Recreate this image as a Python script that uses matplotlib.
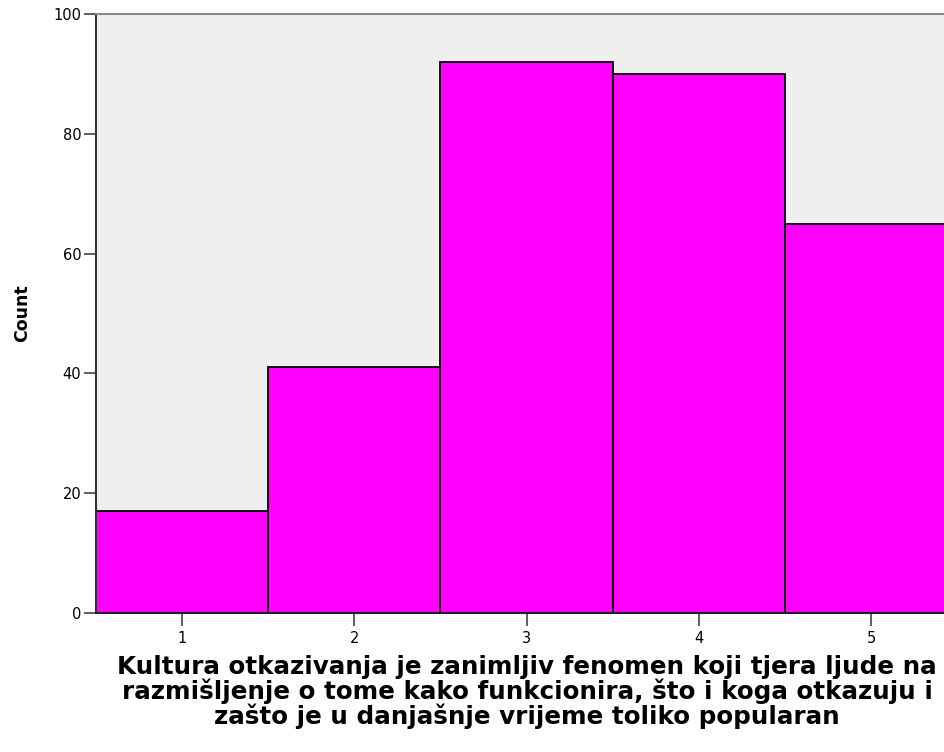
import numpy as np
import matplotlib.pyplot as plt

plt.rcParams['font.family'] = ['DejaVu Sans']

# histogram counts per answer category
categories = [1, 2, 3, 4, 5]
counts = [17, 41, 92, 90, 65]
y_ticks = [0, 20, 40, 60, 80, 100]

xlabel = ('Kultura otkazivanja je zanimljiv fenomen koji tjera ljude na\n'
          'razmišljenje o tome kako funkcionira, što i koga otkazuju i\n'
          'zašto je u danjašnje vrijeme toliko popularan')

fig = plt.figure(figsize=(9.45, 7.52), dpi=100)
ax = fig.add_axes([96/945, 1 - 613/752, 1 - 96/945, (613 - 14)/752])
ax.set_facecolor('#efefef')

ax.bar(categories, counts, width=1.0, color='#ff00ff', edgecolor='black', linewidth=1.3, zorder=2)

ax.set_xlim(0.5, 5.43)
ax.set_ylim(0, 100)
ax.set_xticks(categories)
ax.set_yticks(y_ticks)
ax.tick_params(axis='both', labelsize=10.5, colors='#444444', length=9, width=1.2, direction='out')
ax.tick_params(axis='y', pad=1.5)
ax.tick_params(axis='x', pad=4)
for lbl in ax.get_xticklabels() + ax.get_yticklabels():
    lbl.set_color('black')

ax.spines['right'].set_visible(False)
ax.spines['left'].set_color('#333333')
ax.spines['left'].set_linewidth(1.5)
ax.spines['top'].set_color('#888888')
ax.spines['top'].set_linewidth(1.5)
ax.spines['bottom'].set_color('#222222')
ax.spines['bottom'].set_linewidth(1.5)

ax.set_ylabel('Count', fontsize=12.5, fontweight='bold', labelpad=16)
ax.set_xlabel(xlabel, fontsize=17.7, fontweight='bold', linespacing=0.97)
ax.xaxis.set_label_coords(0.508, -0.07)

fig.savefig('out.png', dpi=100)
